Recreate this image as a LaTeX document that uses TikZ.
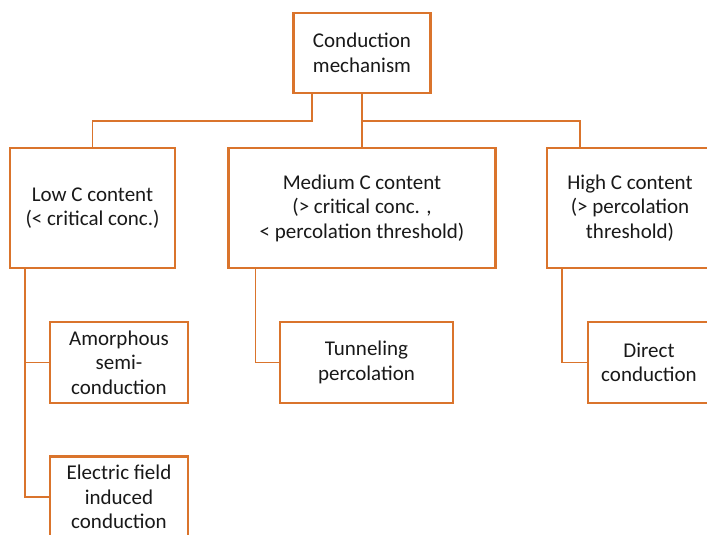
\documentclass[tikz,border=0pt]{standalone}
\usepackage{fontspec}
\setmainfont{Carlito}
\definecolor{mechorange}{RGB}{218,116,44}
\definecolor{mechtext}{RGB}{25,25,25}

\begin{document}
\begin{tikzpicture}[x=1pt, y=-1pt,
  mechbox/.style={draw=mechorange, line width=2.3pt, fill=white, align=center, inner sep=0pt,
    text=mechtext, font=\fontsize{21}{24.5}\selectfont},
  link/.style={draw=mechorange, line width=1.5pt}]
  \useasboundingbox (0,0) rectangle (707,535);
  \clip (0,0) rectangle (707,535);

  \node[mechbox, minimum width=137pt, minimum height=80pt] (root) at (362,53) {Conduction\\mechanism};

  \node[mechbox, minimum width=165pt, minimum height=120pt] (low) at (92.5,208) {Low C content\\(< critical conc.)};
  \node[mechbox, minimum width=267pt, minimum height=120pt] (medium) at (362,208) {Medium C content\\(> critical conc. ,\\< percolation threshold)};
  \node[mechbox, minimum width=166pt, minimum height=120pt] (high) at (630,208) {High C content\\(> percolation\\threshold)};

  \node[mechbox, minimum width=138pt, minimum height=81pt] (amorph) at (119,362.5) {Amorphous\\semi-\\conduction};
  \node[mechbox, minimum width=138pt, minimum height=81pt] (efield) at (119,497) {Electric field\\induced\\conduction};
  \node[mechbox, minimum width=173pt, minimum height=81pt] (tunnel) at (366.5,362.5) {Tunneling\\percolation};
  \node[mechbox, minimum width=122pt, minimum height=81pt] (direct) at (649,362.5) {Direct\\conduction};

  % top level
  \draw[link] ([xshift=-50pt]root.south) -- ++(0,27) -| (low.north);
  \draw[link] (root.south) -- (medium.north);
  \draw[link] (root.south) ++(0,27) -| ([xshift=-50pt]high.north);

  % second level
  \draw[link] ([xshift=16pt]low.south west) |- (amorph.west);
  \draw[link] ([xshift=16pt]low.south west) |- (efield.west);
  \draw[link] ([xshift=28pt]medium.south west) |- (tunnel.west);
  \draw[link] ([xshift=16pt]high.south west) |- (direct.west);

\end{tikzpicture}
\end{document}
